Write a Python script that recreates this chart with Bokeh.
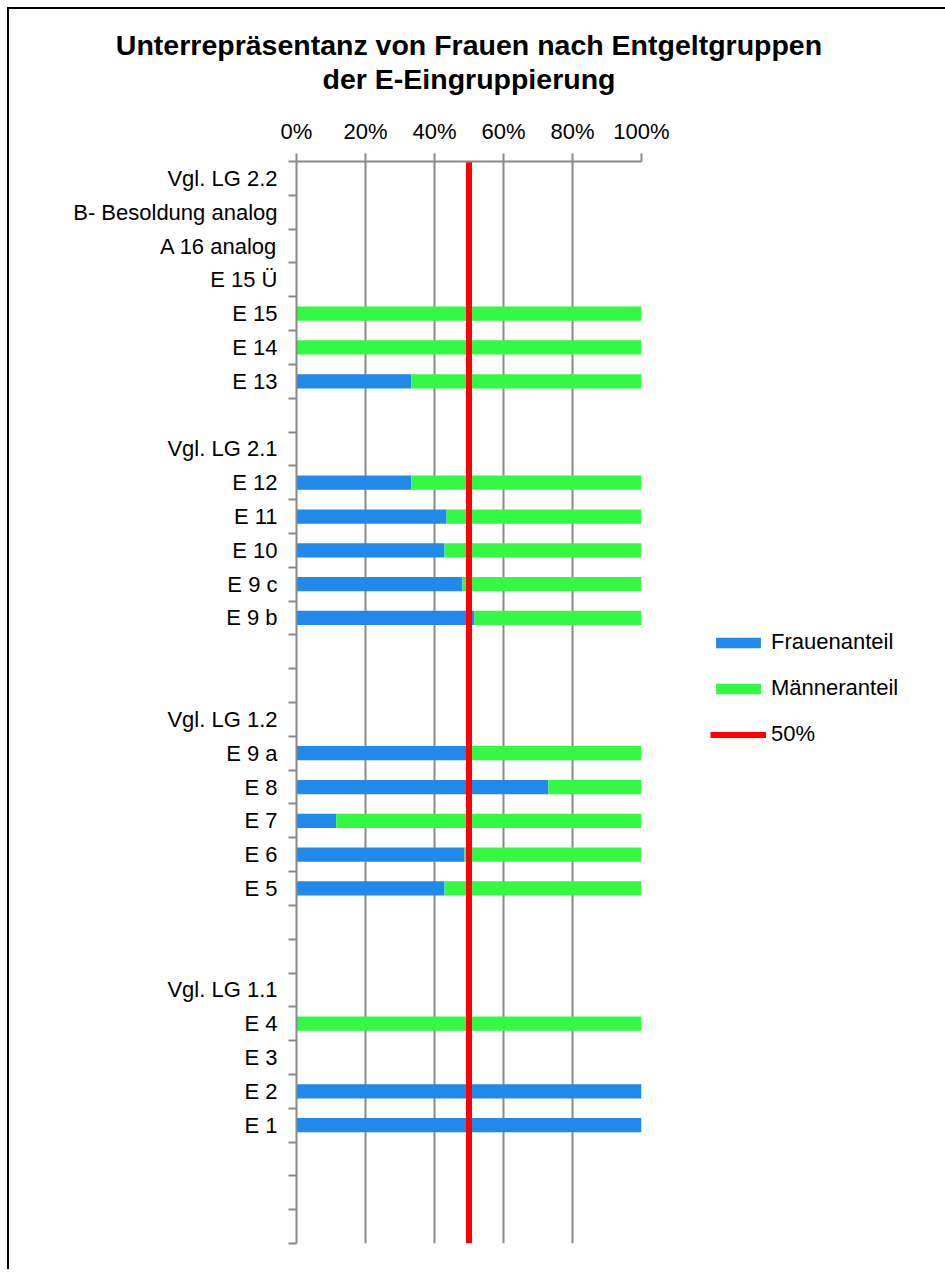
from bokeh.plotting import figure
from bokeh.models import FixedTicker, Range1d, Legend, LegendItem, NumeralTickFormatter, Title
from bokeh.embed import file_html
from bokeh.resources import INLINE

categories = ["Vgl. LG 2.2", "B- Besoldung analog", "A 16 analog", "E 15 Ü", "E 15", "E 14", "E 13", "",
              "Vgl. LG 2.1", "E 12", "E 11", "E 10", "E 9 c", "E 9 b", "", "",
              "Vgl. LG 1.2", "E 9 a", "E 8", "E 7", "E 6", "E 5", "", "",
              "Vgl. LG 1.1", "E 4", "E 3", "E 2", "E 1", "", "", ""]
frauen = [None, None, None, None, 0.0, 0.0, 0.333, None,
          None, 0.333, 0.435, 0.429, 0.481, 0.516, None, None,
          None, 0.50, 0.73, 0.115, 0.487, 0.429, None, None,
          None, 0.0, None, 1.0, 1.0, None, None, None]
maenner = [None, None, None, None, 1.0, 1.0, 0.667, None,
           None, 0.667, 0.565, 0.571, 0.519, 0.484, None, None,
           None, 0.50, 0.27, 0.885, 0.513, 0.571, None, None,
           None, 1.0, None, 0.0, 0.0, None, None, None]
x_ticks = [0, 0.2, 0.4, 0.6, 0.8, 1.0]
half_mark = 0.5
title_lines = ["Unterrepräsentanz von Frauen nach Entgeltgruppen", "der E-Eingruppierung"]

BLUE = "#2189E9"
GREEN = "#33F944"
RED = "#FF0000"
GRAY = "#898989"
FONT = "Liberation Sans"

n = len(categories)
p = figure(frame_width=345, frame_height=1082,
           min_border_left=287, min_border_right=300, min_border_top=152, min_border_bottom=26,
           x_range=Range1d(0, 1), y_range=Range1d(n - 0.5, -0.5),
           x_axis_location="above", output_backend="svg", toolbar_location=None)
p.styles = {"border-left": "2px solid #000", "border-top": "2px solid #000",
            "margin-left": "7px", "margin-top": "7px"}
p.outline_line_color = None
p.background_fill_color = "white"
p.border_fill_color = "white"

rows = [i for i, f in enumerate(frauen) if f is not None]
f_vals = [frauen[i] for i in rows]
m_right = [frauen[i] + maenner[i] for i in rows]

r_f = p.hbar(y=rows, left=0, right=f_vals, height=0.42, fill_color=BLUE, line_color=None)
r_m = p.hbar(y=rows, left=f_vals, right=m_right, height=0.42, fill_color=GREEN, line_color=None)
r_l = p.line(x=[half_mark, half_mark], y=[-0.5, n - 0.5], line_color=RED, line_width=6)

# x axis (top)
xa = p.xaxis[0]
xa.ticker = FixedTicker(ticks=x_ticks, minor_ticks=[])
xa.formatter = NumeralTickFormatter(format="0%")
xa.axis_line_color = GRAY
xa.axis_line_width = 2
xa.major_tick_line_color = GRAY
xa.major_tick_line_width = 2
xa.major_tick_out = 8
xa.major_tick_in = 0
xa.minor_tick_line_color = None
xa.major_label_text_font = FONT
xa.major_label_text_font_size = "22px"
xa.major_label_text_color = "#000"
xa.major_label_standoff = 10

# y axis (left)
ya = p.yaxis[0]
label_ticks = [i for i, c in enumerate(categories) if c]
ya.ticker = FixedTicker(ticks=label_ticks, minor_ticks=[i - 0.5 for i in range(n + 1)])
ya.major_label_overrides = {i: categories[i] for i in label_ticks}
ya.axis_line_color = GRAY
ya.axis_line_width = 2
ya.major_tick_line_color = None
ya.minor_tick_line_color = GRAY
ya.minor_tick_line_width = 2
ya.minor_tick_out = 8
ya.minor_tick_in = 0
ya.major_label_text_font = FONT
ya.major_label_text_font_size = "22px"
ya.major_label_text_color = "#000"
ya.major_label_standoff = 11

p.xgrid.ticker = FixedTicker(ticks=x_ticks)
p.xgrid.grid_line_color = GRAY
p.xgrid.grid_line_width = 2
p.ygrid.grid_line_color = None

p.title = None
t2 = Title(text=title_lines[1], text_font=FONT, text_font_size="28.5px", text_font_style="bold",
           align="center", text_color="#000", standoff=42)
t1 = Title(text=title_lines[0], text_font=FONT, text_font_size="28.5px", text_font_style="bold",
           align="center", text_color="#000", standoff=-42)
p.add_layout(t2, "above")
p.add_layout(t1, "above")

legend = Legend(items=[LegendItem(label="Frauenanteil", renderers=[r_f]),
                       LegendItem(label="Männeranteil", renderers=[r_m]),
                       LegendItem(label="50%", renderers=[r_l])],
                location=(69, 496), orientation="vertical")
legend.label_text_font = FONT
legend.label_text_font_size = "22px"
legend.label_text_color = "#000"
legend.glyph_width = 56
legend.glyph_height = 13
legend.label_height = 20
legend.label_standoff = 5
legend.spacing = 20
legend.padding = 0
legend.margin = 0
legend.border_line_color = None
legend.background_fill_alpha = 0
p.add_layout(legend, "right")

open("out.html", "w").write(file_html(p, INLINE))
